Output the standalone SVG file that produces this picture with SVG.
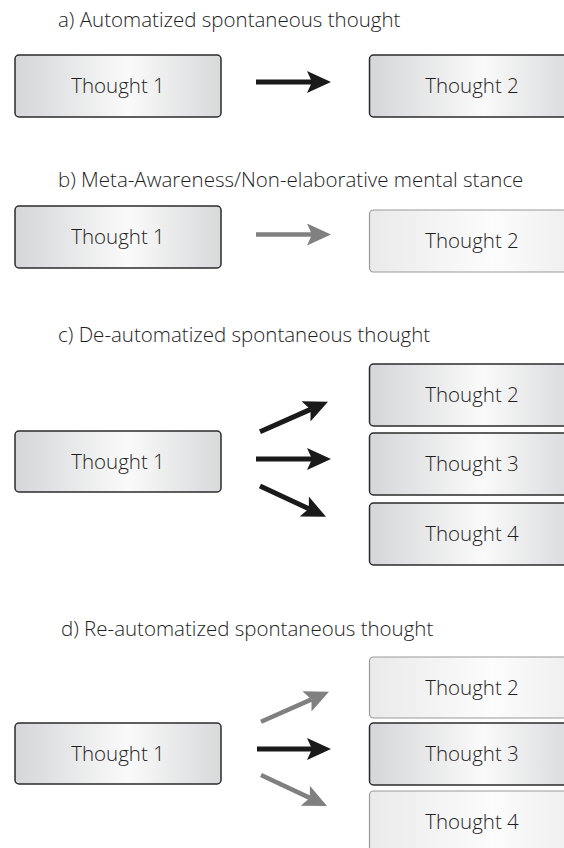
<svg xmlns="http://www.w3.org/2000/svg" width="564" height="848" viewBox="0 0 564 848">
<defs>
<linearGradient id="gDark" x1="0" y1="0" x2="1" y2="0">
<stop offset="0" stop-color="#d5d6d8"/>
<stop offset="0.55" stop-color="#fafafa"/>
<stop offset="1" stop-color="#d8d9db"/>
</linearGradient>
<linearGradient id="gLight" x1="0" y1="0" x2="1" y2="0">
<stop offset="0" stop-color="#eaeaeb"/>
<stop offset="0.6" stop-color="#fcfcfc"/>
<stop offset="1" stop-color="#eeeeef"/>
</linearGradient>
<marker id="hBlack" markerUnits="userSpaceOnUse" viewBox="0 0 24 22" markerWidth="24" markerHeight="22" refX="5" refY="11" orient="auto">
<path d="M0,0 L24,11 L0,22 L5,11 Z" fill="#1a1a1a"/>
</marker>
<marker id="hGray" markerUnits="userSpaceOnUse" viewBox="0 0 24 22" markerWidth="24" markerHeight="22" refX="5" refY="11" orient="auto">
<path d="M0,0 L24,11 L0,22 L5,11 Z" fill="#808080"/>
</marker>
</defs>
<style>
text{font-family:"Open Sans","Noto Sans","Liberation Sans",sans-serif;font-weight:300;fill:#1e1e1e;}
.title{font-size:20.5px;}
.lbl{font-size:20.5px;text-anchor:middle;}
.dark{fill:url(#gDark);stroke:#2b2b2b;stroke-width:1.5;}
.light{fill:url(#gLight);stroke:#9a9a9a;stroke-width:1.2;}
.ab{stroke:#1a1a1a;stroke-width:5;fill:none;marker-end:url(#hBlack);}
.ag{stroke:#808080;stroke-width:4.5;fill:none;marker-end:url(#hGray);}
</style>

<text class="title" x="58" y="27">a) Automatized spontaneous thought</text>
<text class="title" x="58" y="187">b) Meta-Awareness/Non-elaborative mental stance</text>
<text class="title" x="58" y="342">c) De-automatized spontaneous thought</text>
<text class="title" x="61" y="636">d) Re-automatized spontaneous thought</text>

<g id="a-thought1"><rect class="dark" x="15" y="55" width="206" height="62" rx="4"/><text class="lbl" x="118" y="93">Thought 1</text></g>
<g id="a-thought2"><rect class="dark" x="369.5" y="55" width="206" height="62" rx="4"/><text class="lbl" x="472" y="93">Thought 2</text></g>

<g id="b-thought1"><rect class="dark" x="15" y="206" width="206" height="62" rx="4"/><text class="lbl" x="118" y="244">Thought 1</text></g>
<g id="b-thought2"><rect class="light" x="369.5" y="210" width="206" height="62" rx="4"/><text class="lbl" x="472" y="248">Thought 2</text></g>

<g id="c-thought1"><rect class="dark" x="15" y="431" width="206" height="61" rx="4"/><text class="lbl" x="118" y="468.5">Thought 1</text></g>
<g id="c-thought2"><rect class="dark" x="369.5" y="364" width="206" height="62" rx="4"/><text class="lbl" x="472" y="401.5">Thought 2</text></g>
<g id="c-thought3"><rect class="dark" x="369.5" y="433" width="206" height="62" rx="4"/><text class="lbl" x="472" y="470.5">Thought 3</text></g>
<g id="c-thought4"><rect class="dark" x="369.5" y="503" width="206" height="62" rx="4"/><text class="lbl" x="472" y="540.5">Thought 4</text></g>

<g id="d-thought1"><rect class="dark" x="15" y="723" width="206" height="61" rx="4"/><text class="lbl" x="118" y="760.5">Thought 1</text></g>
<g id="d-thought2"><rect class="light" x="369.5" y="657" width="206" height="61" rx="4"/><text class="lbl" x="472" y="694.5">Thought 2</text></g>
<g id="d-thought3"><rect class="dark" x="369.5" y="723" width="206" height="62" rx="4"/><text class="lbl" x="472" y="760.5">Thought 3</text></g>
<g id="d-thought4"><rect class="light" x="369.5" y="791" width="206" height="62" rx="4"/><text class="lbl" x="472" y="828.5">Thought 4</text></g>

<g id="connectors">
<line class="ab" x1="256" y1="82" x2="312" y2="82"/>
<line class="ag" x1="256" y1="234.5" x2="312" y2="234.5"/>
<line class="ab" x1="260" y1="431.7" x2="310.6" y2="409.4"/>
<line class="ab" x1="256" y1="459" x2="312" y2="459"/>
<line class="ab" x1="260" y1="486" x2="308.8" y2="508.7"/>
<line class="ag" x1="261" y1="721.7" x2="311.6" y2="699.4"/>
<line class="ab" x1="257" y1="749" x2="312" y2="749"/>
<line class="ag" x1="261" y1="775" x2="309.8" y2="797.9"/>
</g>
</svg>
